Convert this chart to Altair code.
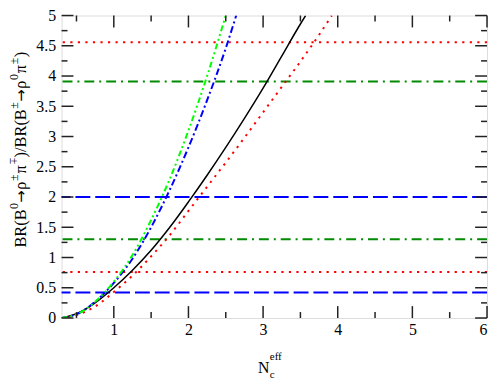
import altair as alt
import pandas as pd

# ---------------- data ----------------
black_x = [0.3, 0.5, 0.75, 1.0, 1.25, 1.5, 1.75, 2.0, 2.25, 2.5, 2.75, 3.0, 3.25, 3.5, 3.57]
black_y = [0.0, 0.07, 0.25, 0.5, 0.79, 1.12, 1.5, 1.92, 2.36, 2.82, 3.3, 3.8, 4.33, 4.86, 5.0]

red_x = [0.3, 0.5, 0.75, 1.0, 1.25, 1.5, 1.75, 2.0, 2.25, 2.5, 2.75, 3.0, 3.25, 3.5, 3.75, 3.92]
red_y = [0.0, 0.05, 0.19, 0.43, 0.7, 1.02, 1.37, 1.77, 2.17, 2.57, 2.98, 3.4, 3.82, 4.24, 4.68, 5.0]

green_x = [0.3, 0.5, 0.75, 1.0, 1.25, 1.5, 1.75, 2.0, 2.25, 2.5]
green_y = [0.0, 0.06, 0.27, 0.6, 1.04, 1.62, 2.3, 3.1, 4.0, 5.0]

blue_x = [0.3, 0.5, 0.75, 1.0, 1.25, 1.5, 1.75, 2.0, 2.25, 2.5, 2.64]
blue_y = [0.0, 0.06, 0.27, 0.58, 0.98, 1.5, 2.12, 2.82, 3.6, 4.46, 5.0]

red_levels = [4.56, 0.76]
green_levels = [3.91, 1.30]
blue_levels = [2.0, 0.42]

x_major = [1, 2, 3, 4, 5, 6]
x_minor = [0.5, 1.5, 2.5, 3.5, 4.5, 5.5]
y_major = [0, 0.5, 1, 1.5, 2, 2.5, 3, 3.5, 4, 4.5, 5]
y_minor = [0.25, 0.75, 1.25, 1.75, 2.25, 2.75, 3.25, 3.75, 4.25, 4.75]

# ---------------- layout / style ----------------
W, H = 429, 305
SERIF = "Liberation Serif"
xs = alt.Scale(domain=[0.3, 6], nice=False, zero=False)
ys = alt.Scale(domain=[0, 5], nice=False, zero=False)

ax_x = alt.Axis(values=x_major, labelExpr="datum.value + ''", ticks=False, domain=False,
                grid=False, labelFont=SERIF, labelFontSize=16, labelColor="#000",
                labelPadding=4, title=None)
ax_y = alt.Axis(values=y_major, labelExpr="datum.value + ''", ticks=False, domain=False,
                grid=False, labelFont=SERIF, labelFontSize=16, labelColor="#000",
                labelPadding=6, title=None)


def curve(xv, yv, color, dash, width):
    df = pd.DataFrame({"x": xv, "y": yv, "o": list(range(len(xv)))})
    kw = dict(color=color, strokeWidth=width, interpolate="monotone", clip=True)
    if dash:
        kw["strokeDash"] = dash
    return alt.Chart(df).mark_line(**kw).encode(
        x=alt.X("x:Q", scale=xs, axis=ax_x),
        y=alt.Y("y:Q", scale=ys, axis=ax_y),
        order="o:Q",
    )


def hlines(levels, color, dash):
    df = pd.DataFrame({"v": levels})
    return alt.Chart(df).mark_rule(color=color, strokeWidth=2, strokeDash=dash).encode(
        y=alt.Y("v:Q", scale=ys, axis=ax_y)
    )


TICK = "#222"


def xticks(vals, length):
    df = pd.DataFrame({"v": vals})
    bot = alt.Chart(df).mark_rule(color=TICK, strokeWidth=1.5).encode(
        x=alt.X("v:Q", scale=xs, axis=ax_x), y=alt.value(H), y2=alt.value(H - length))
    top = alt.Chart(df).mark_rule(color=TICK, strokeWidth=1.5).encode(
        x=alt.X("v:Q", scale=xs, axis=ax_x), y=alt.value(0), y2=alt.value(length))
    return [bot, top]


def yticks(vals, length):
    df = pd.DataFrame({"v": vals})
    left = alt.Chart(df).mark_rule(color=TICK, strokeWidth=1.5).encode(
        y=alt.Y("v:Q", scale=ys, axis=ax_y), x=alt.value(0), x2=alt.value(length))
    right = alt.Chart(df).mark_rule(color=TICK, strokeWidth=1.5).encode(
        y=alt.Y("v:Q", scale=ys, axis=ax_y), x=alt.value(W), x2=alt.value(W - length))
    return [left, right]


one = pd.DataFrame({"a": [0]})


def label(text, x, y, size, font=SERIF, angle=0, align="left", baseline="alphabetic"):
    kw = dict(text=text, font=font, fontSize=size, align=align, baseline=baseline, color="#000")
    if angle:
        kw["angle"] = angle
    return alt.Chart(one).mark_text(**kw).encode(x=alt.value(x), y=alt.value(y))


# y-axis title built from pieces (rotated, reading bottom to top)
pieces = [
    ("BR(B", "main", 38.5), ("0", "sup", 6.6), ("\u2192", "arrow", 13.0), ("\u03c1", "main", 8.7),
    ("\u00b1", "sup", 7.4), ("\u03c0", "main", 9.3), ("\u00b1", "supflip", 7.4), (")/", "main", 10.1),
    ("BR(B", "main", 38.5), ("\u00b1", "sup", 7.4), ("\u2192", "arrow", 13.0), ("\u03c1", "main", 8.7),
    ("0", "sup", 6.6), ("\u03c0", "main", 9.3), ("\u00b1", "sup", 7.4), (")", "main", 5.5),
]
title_layers = []
pos = 234.0  # relative y of the start (bottom) of the title
MAIN_X, SUP_X = -40.5, -47.5
for txt, kind, w in pieces:
    c = pos - w / 2
    if kind == "main":
        title_layers.append(label(txt, MAIN_X, c, 16.5, angle=270, align="center", baseline="middle"))
    elif kind == "arrow":
        title_layers.append(label(txt, MAIN_X, c, 15, font="DejaVu Sans", angle=270,
                                  align="center", baseline="middle"))
    elif kind == "sup":
        title_layers.append(label(txt, SUP_X, c, 12, angle=270, align="center", baseline="middle"))
    else:
        title_layers.append(label(txt, SUP_X, c, 12, angle=90, align="center", baseline="middle"))
    pos -= w

# x-axis title N_c^eff
xt_layers = [
    label("N", 198, 360, 16),
    label("eff", 210, 347, 11),
    label("c", 210, 365, 11),
]

layers = [
    hlines(red_levels, "#ff0000", [2.2, 5.4]),
    hlines(green_levels, "#008b00", [10, 5, 2, 5]),
    hlines(blue_levels, "#0000ff", [15, 5]),
    curve(black_x, black_y, "#000000", None, 1.5),
    curve(red_x, red_y, "#ff0000", [2.2, 5.2], 2),
    curve(blue_x, blue_y, "#0000ff", [7, 3, 2, 3], 2),
    curve(green_x, green_y, "#00ff00", [6, 3, 2, 3, 2, 3], 2),
]
layers += xticks(x_major, 12) + xticks(x_minor, 6) + yticks(y_major, 12) + yticks(y_minor, 6)
layers += title_layers + xt_layers

chart = alt.layer(*layers).properties(
    width=W, height=H,
    autosize=alt.AutoSizeParams(type="none"),
    padding={"left": 54, "top": 6, "right": 2, "bottom": 70},
).configure_view(stroke="#222", strokeWidth=1.5).configure_axis(
    labelFont=SERIF, labelFontSize=16, labelColor="#000"
).configure(background="white")

chart.save("out.html", embed_options={"renderer": "svg", "actions": False})
